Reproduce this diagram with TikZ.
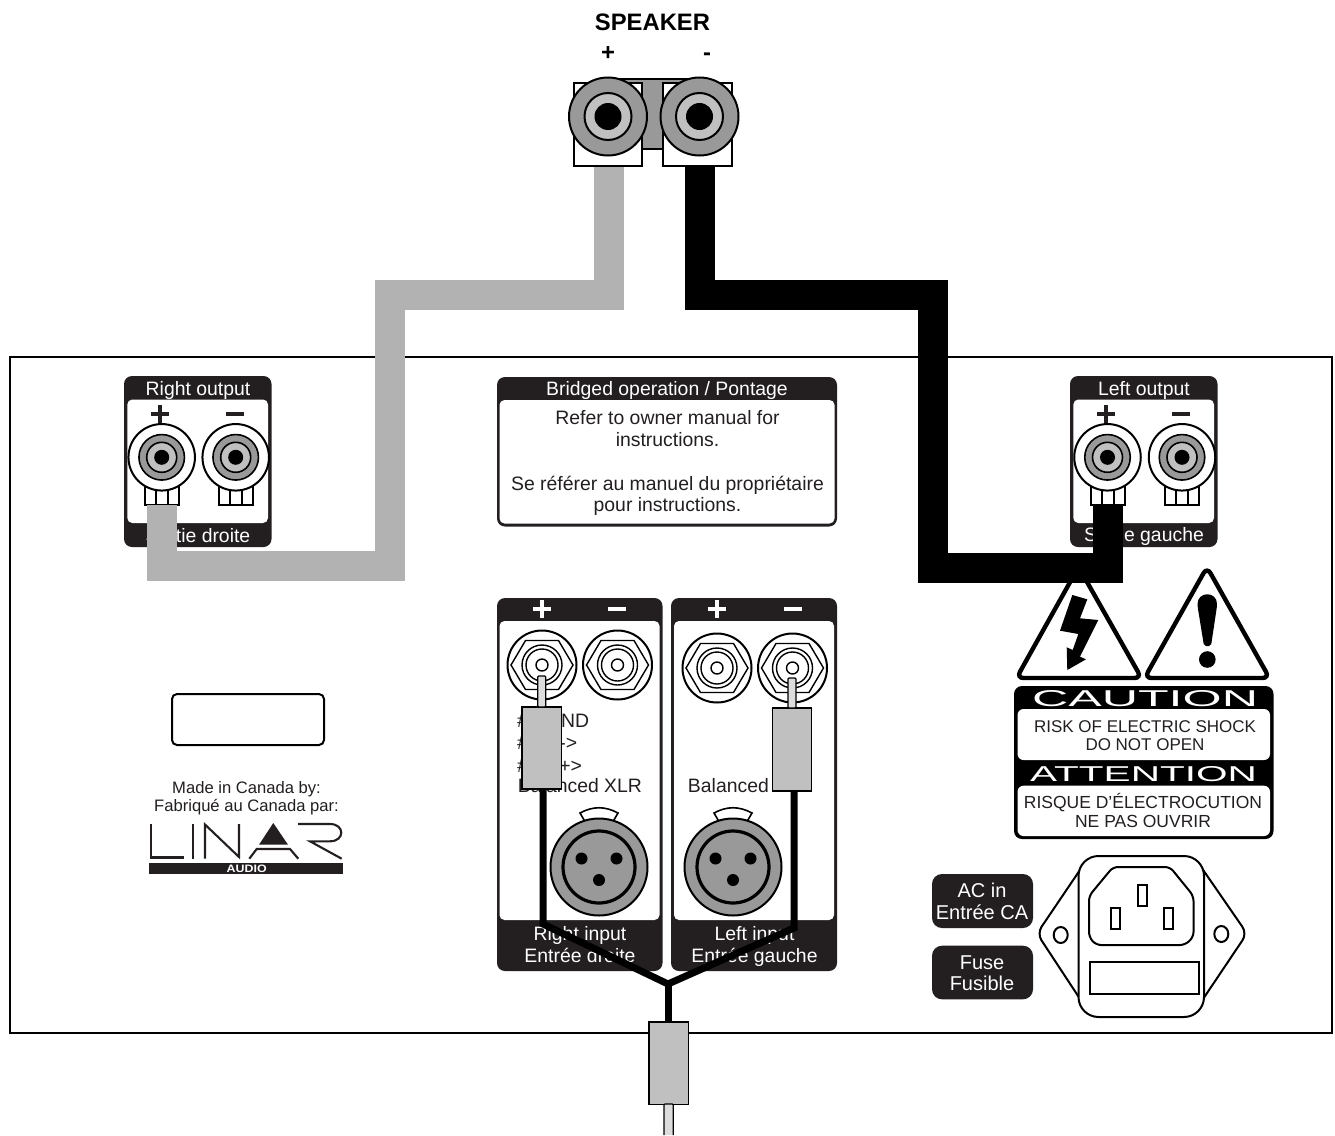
\documentclass[tikz,border=0pt]{standalone}
\usepackage{fontspec}
\usepackage{graphicx}
\setmainfont{Liberation Sans}
\definecolor{panelink}{HTML}{231F20}
\definecolor{postgray}{HTML}{999999}
\definecolor{ringgray}{HTML}{C0C0C0}
\definecolor{cablegray}{HTML}{B2B2B2}
\definecolor{pingray}{HTML}{DCDCDC}
\newcommand\fsz[1]{\fontsize{#1}{#1}\selectfont}
\tikzset{
  x=1pt,y=-1pt,
  outline/.style={draw=black,line width=2pt},
  panelback/.style={fill=panelink,rounded corners=8pt},
  panelwhite/.style={fill=white,rounded corners=5pt},
  txt/.style={anchor=base,inner sep=0pt,outer sep=0pt,text=panelink,font=\fsz{19.4}},
  wtxt/.style={txt,text=white},
  symb/.style={line width=3.4pt},
  roundpart/.style={circle,inner sep=0pt,outer sep=0pt,draw=black,line width=2pt},
  graywire/.style={draw=cablegray,line width=30pt,line join=miter},
  blackwire/.style={draw=black,line width=30pt,line join=miter},
  audiowire/.style={draw=black,line width=7pt,line join=miter},
  plugbody/.style={rectangle,inner sep=0pt,outer sep=0pt,draw=black,line width=1.5pt,fill=ringgray},
  plugpin/.style={draw=black,line width=1.2pt,fill=pingray,rounded corners=1pt},
  warntri/.style={line width=4.4pt,rounded corners=7pt,fill=white},
}
% plus and minus signs
\newcommand\plussign[3]{\draw[symb,draw=#3] (#1-9,#2)--(#1+9,#2) (#1,#2-9)--(#1,#2+9);}
\newcommand\minussign[3]{\draw[symb,draw=#3] (#1-9,#2)--(#1+9,#2);}
% output binding post: name, x, y
\newcommand\bindingpost[3]{%
  \draw[outline,fill=white] (#2-17,#3+28) rectangle (#2+17,#3+48);
  \draw[outline] (#2-6,#3+28)--(#2-6,#3+48) (#2+6,#3+28)--(#2+6,#3+48);
  \node[roundpart,fill=white,minimum size=66.5pt] (#1) at (#2,#3) {};
  \node[roundpart,fill=postgray,line width=1.6pt,minimum size=45.5pt] at (#2,#3) {};
  \node[roundpart,fill=ringgray,line width=1.6pt,minimum size=30pt] at (#2,#3) {};
  \node[circle,inner sep=0pt,fill=black,minimum size=15pt] at (#2,#3) {};
}
% RCA jack: name, x, y
\newcommand\rcajack[3]{%
  \node[roundpart,fill=white,minimum size=69pt] (#1) at (#2,#3) {};
  \draw[line width=1.4pt] (#2-31,#3)--(#2-16.5,#3-24.5)--(#2+16.5,#3-24.5)--(#2+31,#3)--(#2+16.5,#3+24.5)--(#2-16.5,#3+24.5)--cycle;
  \draw[line width=1.4pt] (#2,#3) circle[radius=20] (#2,#3) circle[radius=16] (#2,#3) circle[radius=6];
}
% XLR: name, x, y
\newcommand\xlrsocket[3]{%
  \draw[line width=1.6pt,fill=white] (#2-19,#3-54) .. controls (#2-6,#3-61) and (#2+6,#3-61) .. (#2+19,#3-54) -- (#2+12,#3-42) -- (#2-12,#3-42) -- cycle;
  \node[roundpart,fill=postgray,minimum size=97pt] (#1) at (#2,#3) {};
  \node[roundpart,fill=postgray,line width=3.2pt,minimum size=72pt] at (#2,#3) {};
  \fill (#2-17.5,#3-8.5) circle[radius=6] (#2+17.5,#3-8.5) circle[radius=6] (#2,#3+13) circle[radius=6];
}
\begin{document}
\begin{tikzpicture}
\useasboundingbox (0,0) rectangle (1335,1135);
\fill[white] (0,0) rectangle (1335,1135);
% chassis
\draw[line width=1.8pt] (10,357) rectangle (1332,1033);

% output panels
\fill[panelback] (124,376) rectangle (271.5,547);
\fill[panelwhite] (127.3,399.5) rectangle (268,523);
\node[wtxt] (rout) at (198,395) {Right output};
\node[wtxt] (sdr) at (198,542) {Sortie droite};
\plussign{160}{414}{panelink}
\minussign{235}{414}{panelink}
\bindingpost{rplus}{161.7}{457.3}
\bindingpost{rminus}{235.7}{457.3}

\fill[panelback] (1070,376) rectangle (1217.5,547);
\fill[panelwhite] (1073.3,399.5) rectangle (1214,523);
\node[wtxt] (lout) at (1144,395) {Left output};
\node[wtxt] (sga) at (1144,541) {Sortie gauche};
\plussign{1106}{414}{panelink}
\minussign{1181}{414}{panelink}
\bindingpost{lplus}{1107.5}{457.3}
\bindingpost{lminus}{1182}{457.3}

% bridged panel
\fill[panelback] (497,377) rectangle (837,526.5);
\fill[panelwhite] (499.5,400) rectangle (834.5,523.5);
\node[wtxt] (brt) at (667,395) {Bridged operation / Pontage};
\node[txt] (b1) at (667.5,424) {Refer to owner manual for};
\node[txt] (b2) at (667.5,446) {instructions.};
\node[txt] (b3) at (667.5,490) {Se référer au manuel du propriétaire};
\node[txt] (b4) at (667.5,511) {pour instructions.};

% serial box and maker
\draw[line width=2pt,rounded corners=5pt] (172,694) rectangle (324,745);
\node[txt,font=\fsz{16.6}] (m1) at (246.5,793) {Made in Canada by:};
\node[txt,font=\fsz{16.6}] (m2) at (246.5,811) {Fabriqué au Canada par:};
% logo
\begin{scope}[line width=2.1pt,draw=panelink]
\draw (151,824)--(151,857.5)--(184,857.5);
\draw (193,824)--(193,858.5);
\draw (205,858.5)--(205,824.5)--(239,857)--(239,824);
\fill[panelink] (273.3,823)--(259,844.7)--(288,844.7)--cycle;
\draw (249.3,858.7)--(256.7,849)--(290,849)--(298.3,858.7);
\draw (298,824)--(330,824) .. controls (345,824) and (345,841.3) .. (330,841.3)--(310,841.3)--(341.7,858.7);
\end{scope}
\fill[panelink] (149,863) rectangle (343,874);
\node[inner sep=0pt,text=white] (audio) at (246.7,868.7) {\resizebox{40pt}{7.5pt}{\bfseries AUDIO}};

% input panels
\fill[panelback] (497,598) rectangle (662.5,971);
\fill[panelwhite] (499.5,621) rectangle (659.5,920);
\fill[panelback] (671,598) rectangle (837,971);
\fill[panelwhite] (674,621) rectangle (834,920);
\plussign{542}{609}{white}
\minussign{617}{609}{white}
\plussign{717}{609}{white}
\minussign{793}{609}{white}
\rcajack{jRp}{542}{665}
\rcajack{jRm}{617.5}{665}
\rcajack{jLp}{717}{668}
\rcajack{jLm}{792.5}{668}
\node[txt,anchor=base west] (t1) at (517,727) {\#1\hspace{7.4pt}GND};
\node[txt,anchor=base west] (t2) at (517,749) {\#3\hspace{9.4pt}<->};
\node[txt,anchor=base west] (t3) at (517,772) {\#2\hspace{9.4pt}<+>};
\node[txt] (t4) at (580,792) {Balanced XLR};
\node[txt] (t5) at (750,792) {Balanced XLR};
\xlrsocket{xR}{599}{867}
\xlrsocket{xL}{733}{867}
\node[wtxt] (ri) at (580,940) {Right input};
\node[wtxt] (ei) at (580,962) {Entrée droite};
\node[wtxt] (li) at (754.5,940) {Left input};
\node[wtxt] (eg) at (754.5,962) {Entrée gauche};

% caution
\draw[warntri] (1078.5,567) -- (1141.5,678) -- (1016.5,678) -- cycle;
\fill (1072.3,595)--(1087.3,599.3)--(1080,618.3)--(1098.3,620)--(1080,656.7)--(1086,659.3)--(1067.3,670)--(1066.7,647.3)--(1072.7,650)--(1078.3,634)--(1060,630.7)--cycle;
\draw[warntri] (1207,567) -- (1269.5,678) -- (1144.5,678) -- cycle;
\fill[rounded corners=2pt] (1197.5,606) .. controls (1197.5,591) and (1217,591) .. (1217,606) -- (1211,646) -- (1204,646) -- cycle;
\fill (1207.3,659.5) circle[radius=8.3];
\fill[rounded corners=8pt] (1014,686) rectangle (1273.5,839);
\fill[panelwhite,rounded corners=6pt] (1017.5,709) rectangle (1270,760);
\fill[panelwhite,rounded corners=6pt] (1017.5,785.7) rectangle (1270,836);
\node[inner sep=0pt,text=white] (caut) at (1145,698.7) {\resizebox{226pt}{16pt}{CAUTION}};
\node[inner sep=0pt,text=white] (att) at (1143.5,774.5) {\resizebox{227pt}{15pt}{ATTENTION}};
\node[txt,font=\fsz{17}] (c1) at (1145,732) {RISK OF ELECTRIC SHOCK};
\node[txt,font=\fsz{17}] (c2) at (1145,750) {DO NOT OPEN};
\node[txt,font=\fsz{17.5}] (c3) at (1143,808) {RISQUE D’ÉLECTROCUTION};
\node[txt,font=\fsz{17.5}] (c4) at (1143,827) {NE PAS OUVRIR};

% AC
\fill[panelback,rounded corners=10pt] (932,874) rectangle (1033,928);
\fill[panelback,rounded corners=10pt] (932,945.7) rectangle (1033,999.3);
\node[wtxt,font=\fsz{20}] (a1) at (982,897) {AC in};
\node[wtxt,font=\fsz{20}] (a2) at (982,919) {Entrée CA};
\node[wtxt,font=\fsz{20}] (a3) at (982,969) {Fuse};
\node[wtxt,font=\fsz{20}] (a4) at (982,990) {Fusible};
\begin{scope}[line width=2pt]
\draw[rounded corners=8pt] (1084,864) -- (1037,933.5) -- (1084,1005);
\draw[rounded corners=8pt] (1199,864) -- (1247,933.5) -- (1199,1005);
\draw[fill=white,rounded corners=20pt] (1078.5,856) rectangle (1204,1017);
\draw[rounded corners=5pt] (1113,867) -- (1170,867) -- (1193.5,896) -- (1193.5,937) -- (1185,945) -- (1096,945) -- (1089,937) -- (1089,896) -- cycle;
\draw (1137.7,885) rectangle (1147.3,906);
\draw (1110.7,908) rectangle (1120,929);
\draw (1164,908) rectangle (1173.3,929);
\draw (1090,961.7) rectangle (1199.3,994.3);
\draw (1060.7,935) circle[x radius=7,y radius=8];
\draw (1221.3,934) circle[x radius=7,y radius=8];
\end{scope}

% speaker
\node[txt,font=\fsz{23.8}\bfseries,text=black] (sp) at (652.5,30) {SPEAKER};
\node[txt,font=\fsz{23.8}\bfseries,text=black] (spp) at (608,60) {+};
\node[txt,font=\fsz{23.8}\bfseries,text=black] (spm) at (707,60) {-};
\draw[outline,fill=postgray] (608,78.5) rectangle (700,149);
\node[rectangle,draw=black,line width=2pt,fill=white,inner sep=0pt,minimum width=68pt,minimum height=83pt] (sL) at (608,124.5) {};
\node[rectangle,draw=black,line width=2pt,fill=white,inner sep=0pt,minimum width=69pt,minimum height=83pt] (sR) at (697.5,124.5) {};
\node[roundpart,fill=postgray,minimum size=78pt] at (608,116.5) {};
\node[roundpart,fill=postgray,minimum size=78pt] at (699.5,116.5) {};
\node[roundpart,fill=ringgray,minimum size=47pt] at (608,116.5) {};
\node[roundpart,fill=ringgray,minimum size=47pt] at (699.5,116.5) {};
\fill (608,116.5) circle[radius=13.5] (699.5,116.5) circle[radius=13.5];

% speaker cables
\coordinate (gA) at (608.5,295);
\coordinate (gB) at (390,295);
\coordinate (gC) at (390,566);
\coordinate (gD) at (162,566);
\coordinate (gE) at (162,505);
\coordinate (bA) at (700,295);
\coordinate (bB) at (933,295);
\coordinate (bC) at (933,568);
\coordinate (bD) at (1108,568);
\coordinate (bE) at (1108,505);
\draw[graywire] (gA |- sL.south)--(gA)--(gB)--(gC)--(gD)--(gE);
\draw[blackwire] (bA |- sR.south)--(bA)--(bB)--(bC)--(bD)--(bE);

% input plugs and Y cable
\coordinate (yJ) at (668,984);
\coordinate (rK) at (543,924);
\coordinate (lK) at (794,928);
\node[plugbody,minimum width=39.5pt,minimum height=82pt] (pR) at (541.5,748) {};
\node[plugbody,minimum width=39pt,minimum height=83pt] (pL) at (792.2,749.5) {};
\node[plugbody,minimum width=39.5pt,minimum height=82.5pt] (pY) at (668.5,1063) {};
\draw[plugpin] (537.7,707)--(537.7,676)--(545.7,676)--(545.7,707)--cycle;
\draw[plugpin] (788,708)--(788,678)--(796,678)--(796,708)--cycle;
\draw[plugpin] (664,1135)--(664,1104)--(673.3,1104)--(673.3,1135);
\draw[audiowire] (rK |- pR.south)--(rK)--(yJ)--(lK)--(lK |- pL.south);
\draw[audiowire] (yJ)--(yJ |- pY.north);
\end{tikzpicture}
\end{document}
